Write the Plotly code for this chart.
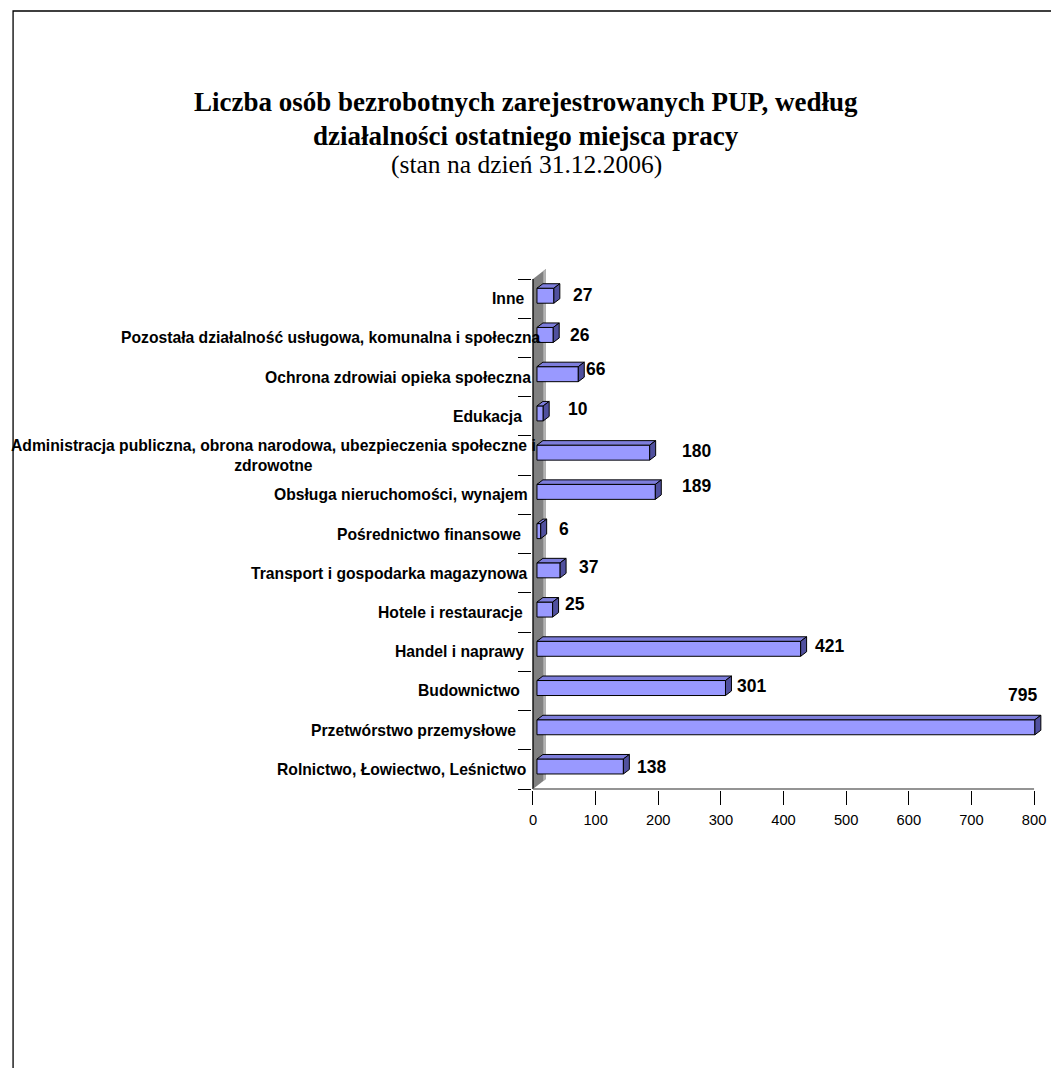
import plotly.graph_objects as go

# ---------------- data (bottom -> top, as in the chart) ----------------
categories = [
    "Rolnictwo, Łowiectwo, Leśnictwo",
    "Przetwórstwo przemysłowe",
    "Budownictwo",
    "Handel i naprawy",
    "Hotele i restauracje",
    "Transport i gospodarka magazynowa",
    "Pośrednictwo finansowe",
    "Obsługa nieruchomości, wynajem",
    "Administracja publiczna, obrona narodowa, ubezpieczenia społeczne i<br>zdrowotne",
    "Edukacja",
    "Ochrona zdrowiai opieka społeczna",
    "Pozostała działalność usługowa, komunalna i społeczna",
    "Inne",
]
values = [138, 795, 301, 421, 25, 37, 6, 189, 180, 10, 66, 26, 27]
x_ticks = [0, 100, 200, 300, 400, 500, 600, 700, 800]

title_line1 = "Liczba osób bezrobotnych zarejestrowanych PUP, według"
title_line2 = "działalności ostatniego miejsca pracy"
subtitle = "(stan na dzień 31.12.2006)"

# ---------------- style / layout (pixels) ----------------
W, H = 1051, 1068
L, R, T, B = 532, 5, 267, 278
PX_X = 505 / 800.0            # px per x unit
PX_Y = 510 / 13.0             # px per category
X0_PX = 533                   # pixel of x = 0
plot_w = W - L - R
plot_h = H - T - B

# category label right-edge nudges (px relative to x=0) and value label nudges
cat_dx = [-5, -15, -11, -7, -8, -3, -10, -3, 5, -9, 0, 10, -6]
val_dx = [32, -8, 30, 33, 26, 32, 27, 45, 51, 39, 22, 31, 33]
val_dy = [-2, -35, -5, -6, -8, -6, -5, -9, -5, -7, -8, -3, -4]

FRONT = "#9999FF"
TOP = "#7D7DDB"
SIDE = "#50509E"
n = len(categories)

base = 4 / PX_X               # front face starts 4px right of the wall
ddx = 6 / PX_X                # depth offset (x)
ddy = 4.5 / PX_Y              # depth offset (y)
bar_w = 15 / PX_Y
bar_c = 2.9 / PX_Y
ypos = [i + bar_c for i in range(n)]

fig = go.Figure()

# front faces
fig.add_trace(go.Bar(
    x=values, y=ypos, base=base, orientation="h", width=bar_w,
    marker=dict(color=FRONT, line=dict(color="black", width=1)),
    hoverinfo="skip",
))

# top and side faces
tx, ty, sx, sy = [], [], [], []
for i, v in enumerate(values):
    yt = ypos[i] + bar_w / 2
    yb = ypos[i] - bar_w / 2
    x1 = base + v
    tx += [base, base + ddx, x1 + ddx, x1, base, None]
    ty += [yt, yt + ddy, yt + ddy, yt, yt, None]
    sx += [x1, x1, x1 + ddx, x1 + ddx, x1, None]
    sy += [yb, yt, yt + ddy, yb + ddy, yb, None]
fig.add_trace(go.Scatter(x=tx, y=ty, mode="lines", fill="toself", fillcolor=TOP,
                         line=dict(color="black", width=1), hoverinfo="skip"))
fig.add_trace(go.Scatter(x=sx, y=sy, mode="lines", fill="toself", fillcolor=SIDE,
                         line=dict(color="black", width=1), hoverinfo="skip"))

# 3D wall (below the bars)
wdx = 13 / PX_X
wdy = 10 / PX_Y
ytop, ybot = n - 0.5, -0.5
shapes = [
    dict(type="path", xref="x", yref="y", layer="below",
         path=f"M 0 {ybot} L {wdx} {ybot + wdy} L {wdx} {ytop + wdy} L 0 {ytop} Z",
         fillcolor="#808080", line=dict(width=0)),
    dict(type="path", xref="x", yref="y", layer="below",
         path=(f"M {wdx*0.8} {ybot + wdy*0.8} L {wdx} {ybot + wdy} L {wdx} {ytop + wdy} "
               f"L {wdx*0.8} {ytop + wdy*0.8} Z"),
         fillcolor="#B4B4B4", line=dict(width=0)),
    dict(type="line", xref="x", yref="y", x0=0, x1=0, y0=ybot, y1=ytop,
         line=dict(color="black", width=1.3)),
    dict(type="line", xref="x", yref="y", x0=0, x1=x_ticks[-1], y0=ybot, y1=ybot,
         line=dict(color="#707070", width=1.3)),
]

# outer frame
def px2paper_x(px):
    return (px - L) / plot_w

def px2paper_y(py):
    return (H - B - py) / plot_h

shapes.append(dict(type="rect", xref="paper", yref="paper",
                   x0=px2paper_x(9), x1=px2paper_x(1070), y0=px2paper_y(1090), y1=px2paper_y(11),
                   line=dict(color="black", width=1.3), fillcolor="rgba(0,0,0,0)"))

annotations = []
for i, c in enumerate(categories):
    annotations.append(dict(
        x=0, y=i, xref="x", yref="y", xanchor="right", yanchor="middle",
        xshift=cat_dx[i], text=f"<b>{c}</b>", showarrow=False, align="center",
        font=dict(family="Liberation Sans, Arial", size=15.7, color="black")))
for i, v in enumerate(values):
    annotations.append(dict(
        x=v, y=i, xref="x", yref="y", xanchor="center", yanchor="middle",
        xshift=val_dx[i], yshift=-val_dy[i], text=f"<b>{v}</b>", showarrow=False,
        font=dict(family="Liberation Sans, Arial", size=17.5, color="black")))

title_x = px2paper_x(526)
annotations += [
    dict(x=title_x, y=px2paper_y(102), xref="paper", yref="paper", xanchor="center",
         yanchor="middle", showarrow=False, text=f"<b>{title_line1}</b>",
         font=dict(family="Liberation Serif, Times New Roman", size=27, color="black")),
    dict(x=title_x, y=px2paper_y(136), xref="paper", yref="paper", xanchor="center",
         yanchor="middle", showarrow=False, text=f"<b>{title_line2}</b>",
         font=dict(family="Liberation Serif, Times New Roman", size=27, color="black")),
    dict(x=title_x, y=px2paper_y(165), xref="paper", yref="paper", xanchor="center",
         yanchor="middle", showarrow=False, text=subtitle,
         font=dict(family="Liberation Serif, Times New Roman", size=25.5, color="black")),
]

fig.update_layout(
    width=W, height=H, margin=dict(l=L, r=R, t=T, b=B, pad=0),
    paper_bgcolor="white", plot_bgcolor="white", showlegend=False,
    shapes=shapes, annotations=annotations,
    xaxis=dict(range=[-1 / PX_X, (W - R - X0_PX) / PX_X], tickvals=x_ticks,
               ticks="outside", ticklen=14, tickcolor="black", tickwidth=1,
               showgrid=False, zeroline=False, showline=False, ticklabelstandoff=2,
               tickfont=dict(family="Liberation Sans, Arial", size=14.7, color="black")),
    yaxis=dict(range=[-0.5 - 1 / PX_Y, n - 0.5 + 12 / PX_Y],
               tickvals=[i - 0.5 for i in range(n + 1)], ticks="outside", ticklen=13,
               tickcolor="black", tickwidth=1, showticklabels=False,
               showgrid=False, zeroline=False, showline=False),
)

fig.write_html("out.html", config={"displayModeBar": False},
               post_script="document.body.style.margin='0px';document.body.style.overflow='hidden';")
